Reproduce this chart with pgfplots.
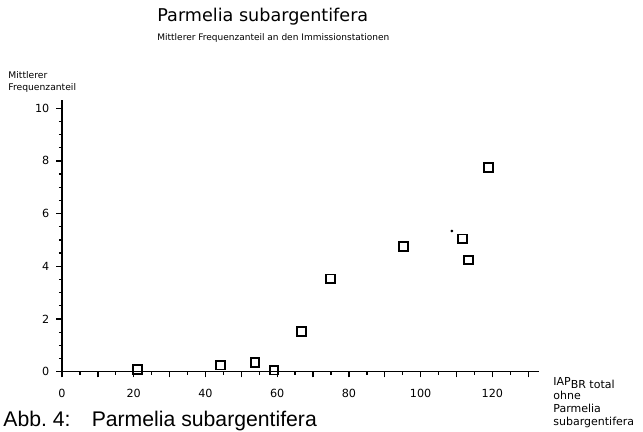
\documentclass[border=0pt]{standalone}
\usepackage{pgfplots}
\pgfplotsset{compat=1.18}
\usepackage{fontspec}
\setmainfont{DejaVu Sans}
\newfontfamily\capfont{Liberation Sans}
\begin{document}
\begin{tikzpicture}
\useasboundingbox (0,0) rectangle (321.5pt,216pt);
\begin{axis}[
  at={(31pt,30.15pt)}, anchor=south west,
  scale only axis, width=238.5pt, height=135.7pt,
  xmin=0, xmax=133, ymin=0, ymax=10.3,
  axis lines=left, axis line style={-, line width=0.75pt},
  tick align=outside, tick style={line width=0.65pt, black},
  major tick length=2.8pt, minor tick length=1.5pt,
  xtick={0,10,...,130}, xticklabels={0,,20,,40,,60,,80,,100,,120,},
  minor x tick num=1,
  ytick={0,2,...,10}, yticklabels={0,2,4,6,8,10}, minor y tick num=3,
  tick label style={font=\fontsize{5.6}{6}\selectfont},
  xticklabel style={yshift=-2.3pt},
  clip=false,
]
\addplot[only marks, mark=square, mark size=2.2pt, mark options={line width=0.95pt, rounded corners=0.9pt}] coordinates {
(21.1,0.09) (44.2,0.25) (53.8,0.36) (59.1,0.06) (66.8,1.52) (74.9,3.52) (95.2,4.74) (111.6,5.04) (113.3,4.24) (118.9,7.76)
};
\addplot[only marks, mark=*, mark size=0.45pt] coordinates {(108.7,5.34)};
\end{axis}
\node[anchor=base west, inner sep=0, font=\fontsize{8.8}{10}\selectfont] at (78.5pt,205pt) {Parmelia subargentifera};
\node[anchor=base west, inner sep=0, font=\fontsize{4.5}{5.5}\selectfont] at (78.5pt,195.75pt) {Mittlerer Frequenzanteil an den Immissionstationen};
\node[anchor=base west, inner sep=0, font=\fontsize{4.6}{5.5}\selectfont] at (4pt,176.5pt) {Mittlerer};
\node[anchor=base west, inner sep=0, font=\fontsize{4.6}{5.5}\selectfont] at (4pt,170.5pt) {Frequenzanteil};
\node[anchor=base west, inner sep=0, font=\fontsize{5.5}{6}\selectfont] at (276.5pt,23pt) {IAP\raisebox{-1.3pt}{BR total}};
\node[anchor=base west, inner sep=0, font=\fontsize{5.5}{6}\selectfont] at (276.5pt,16pt) {ohne};
\node[anchor=base west, inner sep=0, font=\fontsize{5.5}{6}\selectfont] at (276.5pt,9.5pt) {Parmelia};
\node[anchor=base west, inner sep=0, font=\fontsize{5.5}{6}\selectfont] at (276.5pt,3pt) {subargentifera};
\node[anchor=base west, inner sep=0, font=\capfont\fontsize{10.6}{12}\selectfont] at (1.5pt,2.5pt) {Abb.\ 4:\hspace{1em}Parmelia subargentifera};
\end{tikzpicture}
\end{document}
